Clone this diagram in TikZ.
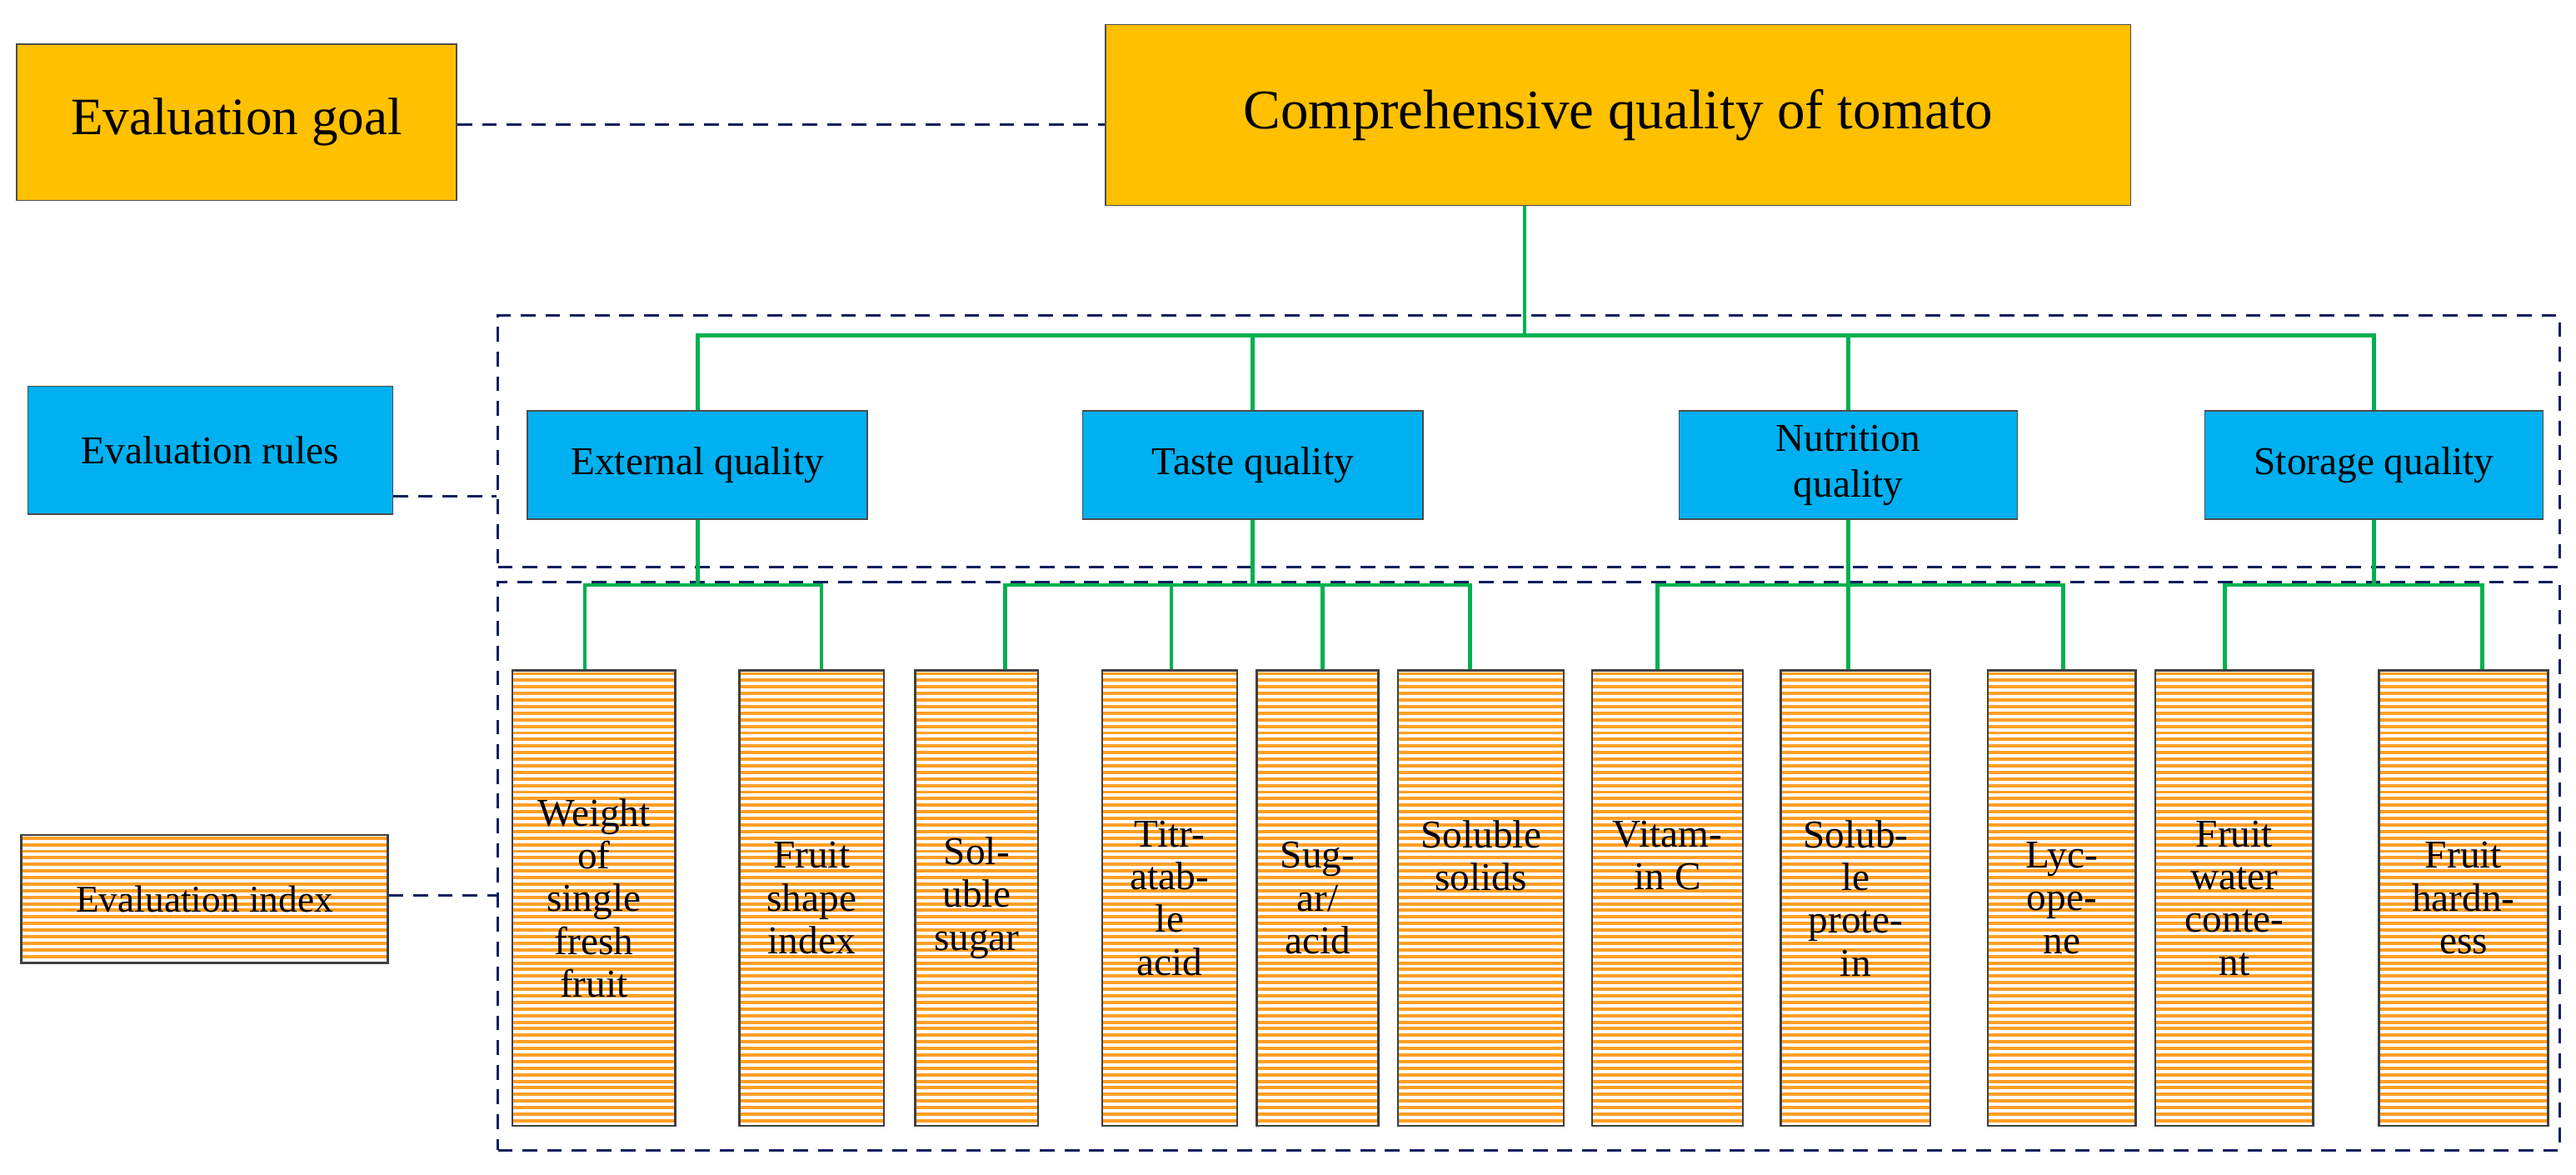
\documentclass[tikz,border=0pt]{standalone}
\usepackage{fontspec}
\setmainfont{Liberation Serif}
\definecolor{gold}{HTML}{FFC000}
\definecolor{sky}{HTML}{00B0F0}
\definecolor{grn}{HTML}{00B050}
\definecolor{navy}{HTML}{0F1F5F}
\definecolor{stripe}{HTML}{FF9F24}
\begin{document}
\begin{tikzpicture}[x=1pt,y=-1pt,
 goal/.style={draw=black!70,line width=0.8pt,fill=gold,inner sep=0pt},
 rule/.style={draw=black!70,line width=0.8pt,fill=sky,inner sep=0pt,align=center,font=\fontsize{24}{28}\selectfont},
 idx/.style={draw=black!75,line width=1.2pt,inner sep=0pt,align=center,font=\fontsize{24}{26}\selectfont,
   path picture={\foreach \k in {0,...,80}{\fill[stripe] ([yshift=-\k*4pt-1pt]path picture bounding box.north west) rectangle ([yshift=-\k*4pt-3pt]path picture bounding box.north east);}}},
 dl/.style={navy,line width=1.5pt,dash pattern=on 9pt off 6pt},
 gl/.style={grn,line width=2.5pt}]
\useasboundingbox (0,0) rectangle (1568,715);
\def\bx#1#2#3#4#5#6{\node[#6,minimum width=#3-#1,minimum height=#4-#2] (#5) at ({(#1+#3)/2},{(#2+#4)/2}) {};}
% goal
\node[goal,minimum width=268,minimum height=95,font=\fontsize{32}{36}\selectfont] (eg) at (144,74.5) {Evaluation goal};
\node[goal,minimum width=624,minimum height=110,font=\fontsize{34}{38}\selectfont] (cq) at (985,70) {Comprehensive quality of tomato};
\draw[dl] (eg.east |- 0,76) -- (cq.west |- 0,76);
% dashed frames
\node[dl,draw,minimum width=1255,minimum height=153,inner sep=0pt] (fr1) at (930.5,268.5) {};
\node[dl,draw,minimum width=1255,minimum height=346,inner sep=0pt] (fr2) at (930.5,527) {};
% rules
\node[rule,minimum width=222,minimum height=78] (er) at (128,274) {Evaluation rules};
\draw[dl] (er.east |- 0,302) -- (fr1.west |- 0,302);
\node[rule,minimum width=207,minimum height=66] (ex) at (424.5,283) {External quality};
\node[rule,minimum width=207,minimum height=66] (ta) at (762.5,283) {Taste quality};
\node[rule,minimum width=206,minimum height=66] (nu) at (1125,283) {Nutrition\\quality};
\node[rule,minimum width=206,minimum height=66] (st) at (1445,283) {Storage quality};
% index legend
\node[idx,minimum width=223,minimum height=78,font=\fontsize{23}{26}\selectfont] (ei) at (124.5,547) {Evaluation index};
\draw[dl] (ei.east |- 0,545) -- (fr2.west |- 0,545);
% index boxes
\newcommand\ib[4]{\node[idx,minimum width=#2-#1,minimum height=277] (#3) at ({(#1+#2)/2},546.5) {#4};}
\ib{312}{411}{i1}{Weight\\of\\single\\fresh\\fruit}
\ib{450}{538}{i2}{Fruit\\shape\\index}
\ib{557}{632}{i3}{Sol-\\uble\\sugar}
\ib{671}{753}{i4}{Titr-\\atab-\\le\\acid}
\ib{765}{839}{i5}{Sug-\\ar/\\acid}
\ib{851}{952}{i6}{Soluble\\solids\\[26pt]}
\ib{969}{1061}{i7}{Vitam-\\in C\\[26pt]}
\ib{1084}{1175}{i8}{Solub-\\le\\prote-\\in}
\ib{1210}{1300}{i9}{Lyc-\\ope-\\ne}
\ib{1312}{1408}{i10}{Fruit\\water\\conte-\\nt}
\ib{1448}{1551}{i11}{Fruit\\hardn-\\ess}
% green tree
\coordinate (h0) at (928,204);
\draw[gl] (cq.south -| h0) -- (h0);
\draw[gl] (ex.north) |- (h0) -| (st.north);
\draw[gl] (ta.north) -- (ta.north |- h0);
\draw[gl] (nu.north) -- (nu.north |- h0);
\def\hy{356}
\draw[gl] (ex.south) -- (ex.south |- 0,\hy);
\draw[gl] (356,0 |- i1.north) -- (356,\hy) -- (500,\hy) -- (500,0 |- i2.north);
\draw[gl] (ta.south) -- (ta.south |- 0,\hy);
\draw[gl] (612,0 |- i3.north) -- (612,\hy) -- (895,\hy) -- (895,0 |- i6.north);
\draw[gl] (713,\hy) -- (713,0 |- i4.north);
\draw[gl] (805,\hy) -- (805,0 |- i5.north);
\draw[gl] (nu.south) -- (i8.north -| nu.south);
\draw[gl] (1009,0 |- i7.north) -- (1009,\hy) -- (1256,\hy) -- (1256,0 |- i9.north);
\draw[gl] (st.south) -- (st.south |- 0,\hy);
\draw[gl] (1354,0 |- i10.north) -- (1354,\hy) -- (1511,\hy) -- (1511,0 |- i11.north);
\end{tikzpicture}
\end{document}
